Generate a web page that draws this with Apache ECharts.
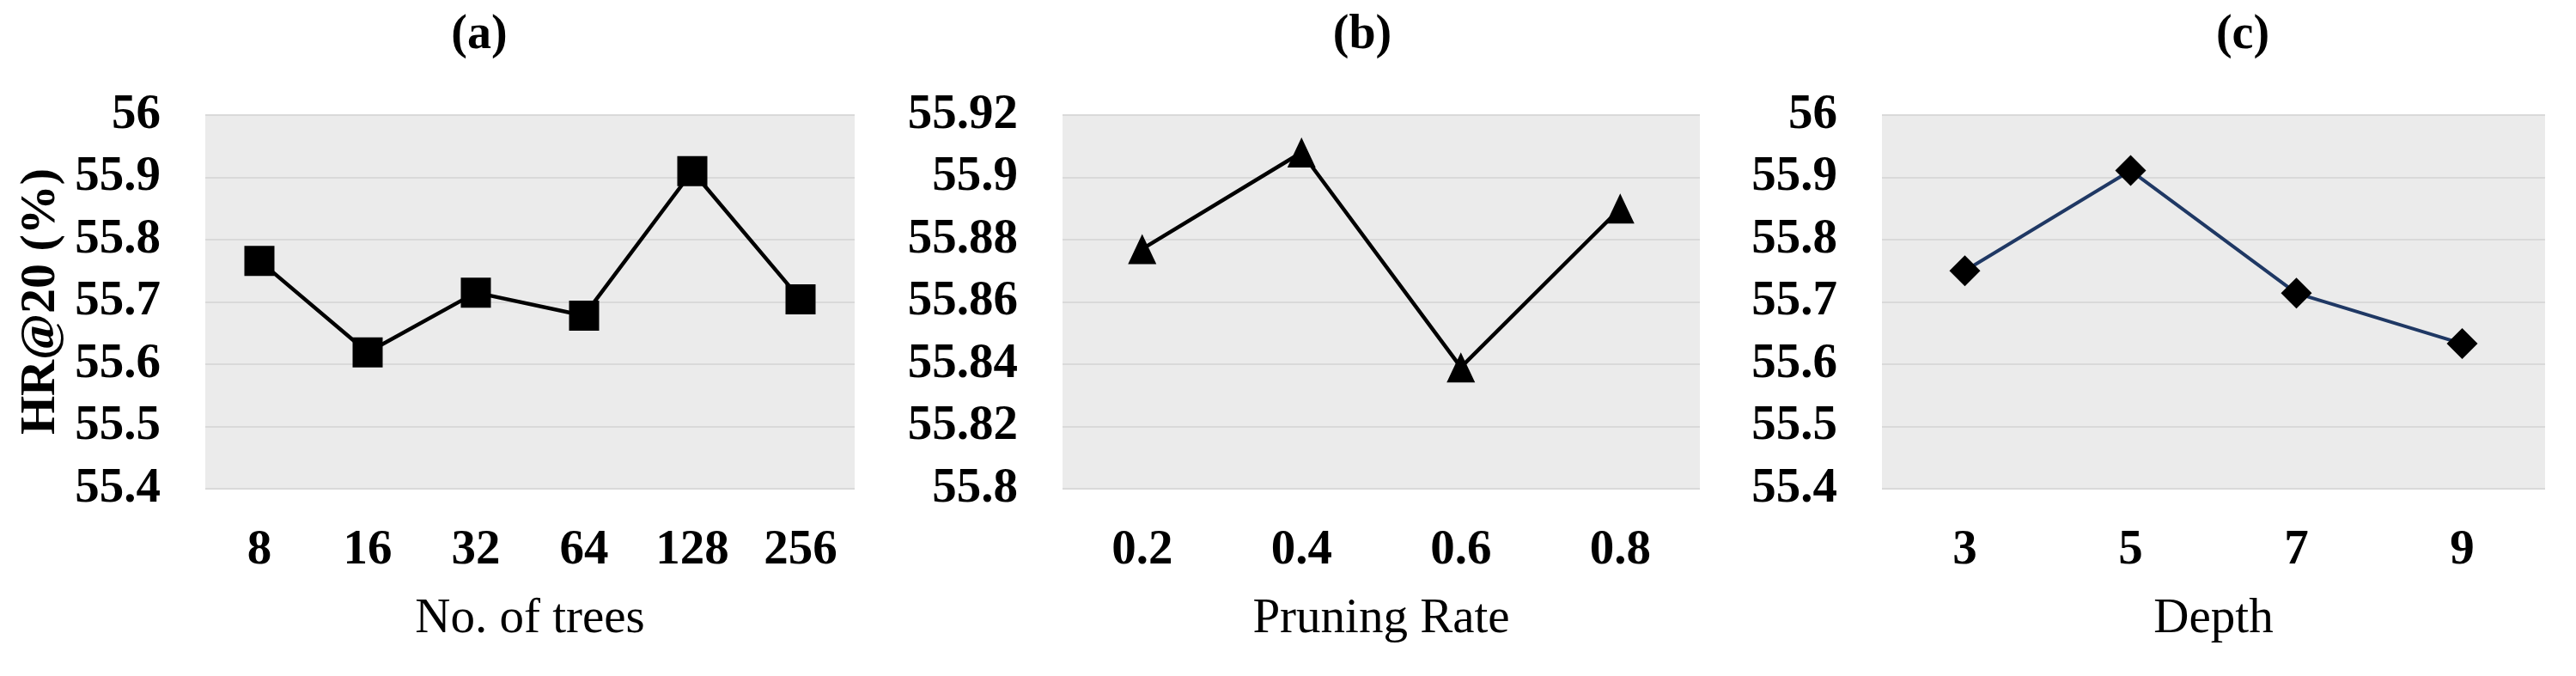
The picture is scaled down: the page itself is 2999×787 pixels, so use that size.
<!DOCTYPE html>
<html>
<head>
<meta charset="utf-8">
<script src="https://cdn.jsdelivr.net/npm/echarts@6/dist/echarts.min.js"></script>
<style>
html,body{margin:0;padding:0;background:#fff;}
#chart{width:2999px;height:787px;}
</style>
</head>
<body>
<div id="chart"></div>
<script>
// ---- data ----
const treesCats = ['8', '16', '32', '64', '128', '256'];
const treesVals = [55.766, 55.619, 55.715, 55.678, 55.910, 55.704];

const pruneCats = ['0.2', '0.4', '0.6', '0.8'];
const pruneVals = [55.877, 55.908, 55.839, 55.890];

const depthCats = ['3', '5', '7', '9'];
const depthVals = [55.750, 55.911, 55.714, 55.633];

const panelTitles = ['(a)', '(b)', '(c)'];
const xNames = ['No. of trees', 'Pruning Rate', 'Depth'];
const yName = 'HR@20 (%)';

// ---- styling ----
const FONT = '"Liberation Serif", "Times New Roman", serif';
const grids = [
  {left: 239, top: 134, width: 756, height: 435},
  {left: 1237, top: 134, width: 742, height: 435},
  {left: 2191, top: 134, width: 772, height: 435}
];
const titleX = [558, 1586, 2611];

const chart = echarts.init(document.getElementById('chart'), null, {renderer: 'canvas'});

function xAxis(i, cats, name) {
  return {
    type: 'category', gridIndex: i, data: cats, boundaryGap: true,
    axisLine: {show: false}, axisTick: {show: false},
    axisLabel: {margin: 44, fontFamily: FONT, fontWeight: 'bold', fontSize: 57, color: '#000'},
    name: name, nameLocation: 'middle', nameGap: 124,
    nameTextStyle: {fontFamily: FONT, fontSize: 57, color: '#000'}
  };
}
function yAxis(i, min, max, interval) {
  return {
    type: 'value', gridIndex: i, min: min, max: max, interval: interval,
    axisLine: {show: false}, axisTick: {show: false},
    splitLine: {show: true, lineStyle: {color: '#D9D9D9', width: 2}},
    axisLabel: {margin: 52, fontFamily: FONT, fontWeight: 'bold', fontSize: 57, color: '#000'}
  };
}

const option = {
  backgroundColor: '#ffffff',
  animation: false,
  grid: grids.map(g => Object.assign({show: true, backgroundColor: '#EBEBEB', borderWidth: 0}, g)),
  xAxis: [xAxis(0, treesCats, xNames[0]), xAxis(1, pruneCats, xNames[1]), xAxis(2, depthCats, xNames[2])],
  yAxis: [yAxis(0, 55.4, 56, 0.1), yAxis(1, 55.8, 55.92, 0.02), yAxis(2, 55.4, 56, 0.1)],
  series: [
    {type: 'line', xAxisIndex: 0, yAxisIndex: 0, data: treesVals,
     symbol: 'rect', symbolSize: 35, lineStyle: {color: '#000', width: 4.5},
     itemStyle: {color: '#000'}},
    {type: 'line', xAxisIndex: 1, yAxisIndex: 1, data: pruneVals,
     symbol: 'triangle', symbolSize: [33, 35], lineStyle: {color: '#000', width: 4.5},
     itemStyle: {color: '#000'}},
    {type: 'line', xAxisIndex: 2, yAxisIndex: 2, data: depthVals,
     symbol: 'diamond', symbolSize: [36, 36], lineStyle: {color: '#1F3864', width: 4},
     itemStyle: {color: '#000'}}
  ],
  graphic: [
    ...panelTitles.map((t, i) => ({
      type: 'text', x: titleX[i], y: 42,
      style: {text: t, font: 'bold 56px ' + FONT, fill: '#000', textAlign: 'center', textVerticalAlign: 'middle'}
    })),
    {type: 'text', x: 48, y: 351, rotation: Math.PI / 2,
     style: {text: yName, font: 'bold 58px ' + FONT, fill: '#000', textAlign: 'center', textVerticalAlign: 'middle'}}
  ]
};
chart.setOption(option);
</script>
</body>
</html>
